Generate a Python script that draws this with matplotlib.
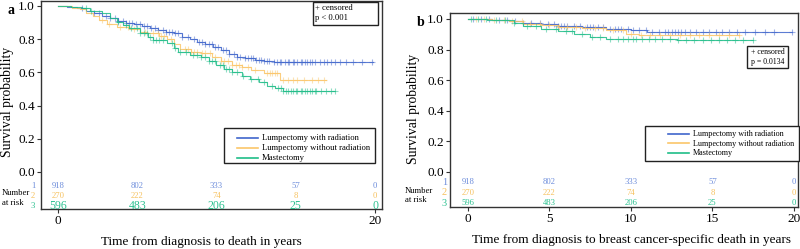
import numpy as np
import matplotlib
matplotlib.use("Agg")
import matplotlib.pyplot as plt
from matplotlib.lines import Line2D
from matplotlib.patches import Rectangle

plt.rcParams['font.family'] = ['Liberation Serif', 'DejaVu Serif']

# group names and colours
groups = ["Lumpectomy with radiation", "Lumpectomy without radiation", "Mastectomy"]
colors = ["#4066cc", "#fbc66a", "#1fbd88"]
risk_colors = ["#6d8ddb", "#f6c15e", "#2cc190"]

risk_times = [0, 5, 10, 15, 20]
risk_lwr = [918, 802, 333, 57, 0]
risk_lwor = [270, 222, 74, 8, 0]
risk_mast = [596, 483, 206, 25, 0]

# ---- panel a: overall survival (step points)
a_lwr_t = [0, 0.6, 1.2, 1.8, 2.3, 2.8, 3.3, 3.8, 4.3, 4.8, 5.3, 5.8, 6.3, 6.8, 7.3, 7.8, 8.3,
           8.8, 9.3, 9.8, 10.3, 10.8, 11.3, 11.8, 12.4, 13.0, 13.6, 19.9]
a_lwr_s = [1.0, 0.995, 0.985, 0.97, 0.955, 0.94, 0.925, 0.91, 0.9, 0.89, 0.88, 0.865, 0.855, 0.845,
           0.835, 0.815, 0.8, 0.785, 0.77, 0.755, 0.735, 0.71, 0.695, 0.685, 0.675, 0.668, 0.66, 0.66]
a_lwor_t = [0, 0.9, 1.4, 1.8, 2.2, 2.6, 3.1, 3.7, 4.5, 5.2, 5.6, 6.4, 6.9, 7.3, 7.7, 8.4, 9.0,
            9.7, 10.3, 11.0, 11.6, 12.2, 13.0, 14.0, 16.9]
a_lwor_s = [1.0, 0.99, 0.98, 0.96, 0.94, 0.915, 0.89, 0.875, 0.86, 0.845, 0.835, 0.82, 0.8, 0.77,
            0.74, 0.725, 0.715, 0.69, 0.67, 0.645, 0.63, 0.615, 0.595, 0.555, 0.555]
a_mast_t = [0, 0.8, 1.5, 2.0, 2.8, 3.3, 3.7, 4.1, 4.5, 5.2, 5.7, 6.0, 6.9, 7.3, 7.6, 8.3, 9.0,
            9.5, 10.0, 10.5, 11.0, 11.6, 12.1, 12.7, 13.2, 13.7, 14.2, 17.5]
a_mast_s = [1.0, 0.995, 0.985, 0.97, 0.955, 0.93, 0.905, 0.885, 0.865, 0.835, 0.815, 0.795, 0.775,
            0.745, 0.725, 0.705, 0.69, 0.67, 0.645, 0.62, 0.6, 0.58, 0.56, 0.54, 0.52, 0.505, 0.49, 0.49]

a_lwr_c = [1.5, 2.3, 2.6, 3.0, 3.3, 3.6, 3.8, 4.1, 4.3, 4.5, 4.7, 4.9, 5.2, 5.4, 5.6, 5.9, 6.1,
           6.3, 6.6, 6.8, 7.0, 7.2, 7.4, 7.6, 7.8, 8.2, 8.6, 8.9, 9.1, 9.3, 9.5, 9.7, 9.9, 10.1,
           10.4, 10.6, 10.8, 11.1, 11.3, 11.5, 11.8, 12.0, 12.2, 12.3, 12.5, 12.7, 12.8, 13.0,
           13.2, 13.3, 13.6, 13.8, 14.0, 14.1, 14.3, 14.5, 14.6, 14.8, 14.9, 15.1, 15.3, 15.4,
           15.6, 15.7, 15.9, 16.0, 16.2, 16.5, 16.8, 17.0, 17.2, 17.5, 17.8, 18.2, 18.6, 19.2, 19.8]
a_lwor_c = [2.8, 3.2, 3.9, 4.4, 4.8, 5.5, 6.0, 6.3, 6.5, 6.7, 7.1, 8.0, 8.2, 8.4, 8.6, 8.8, 9.1,
            9.3, 9.6, 9.9, 10.3, 10.5, 10.7, 11.0, 11.2, 11.4, 11.6, 12.0, 12.4, 13.2, 13.4,
            13.5, 13.7, 13.8, 14.2, 14.5, 14.8, 15.1, 15.5, 16.0, 16.4, 16.8]
a_mast_c = [1.8, 2.1, 3.8, 4.3, 4.6, 5.0, 5.2, 5.4, 5.6, 5.8, 6.0, 6.2, 6.4, 6.6, 7.2, 7.4, 7.7,
            8.1, 8.5, 8.8, 9.0, 9.3, 9.5, 9.7, 9.9, 10.2, 10.4, 10.6, 10.8, 11.0, 11.3, 11.7,
            12.2, 12.6, 13.0, 13.5, 13.9, 14.1, 14.2, 14.4, 14.5, 14.7, 14.8, 15.0, 15.1, 15.3,
            15.4, 15.6, 15.7, 15.9, 16.0, 16.2, 16.3, 16.6, 16.9, 17.2, 17.5]

# ---- panel b: breast cancer-specific survival
b_lwr_t = [0, 1.5, 2.5, 3.4, 4.5, 5.5, 7.0, 8.5, 10.0, 11.0, 19.9]
b_lwr_s = [1.0, 0.995, 0.985, 0.975, 0.965, 0.955, 0.945, 0.935, 0.925, 0.915, 0.915]
b_lwor_t = [0, 1.5, 2.5, 3.4, 4.5, 5.5, 7.0, 8.5, 9.7, 10.5, 16.6]
b_lwor_s = [1.0, 0.995, 0.985, 0.97, 0.96, 0.95, 0.94, 0.925, 0.905, 0.895, 0.895]
b_mast_t = [0, 1.2, 2.0, 2.8, 3.4, 4.5, 5.5, 6.5, 7.5, 8.5, 12.8, 17.5]
b_mast_s = [1.0, 0.995, 0.99, 0.975, 0.955, 0.935, 0.92, 0.9, 0.88, 0.87, 0.86, 0.86]

b_lwr_c = [0.3, 0.8, 1.3, 1.9, 2.4, 2.9, 3.4, 3.9, 4.4, 4.9, 5.3, 5.5, 5.7, 5.9, 6.1, 6.5, 6.9,
           7.3, 7.5, 7.7, 8.0, 8.3, 8.7, 9.0, 9.2, 9.4, 9.8, 10.1, 10.5, 10.9, 11.3, 11.7, 12.1,
           12.3, 12.5, 12.7, 12.9, 13.1, 13.3, 13.6, 14.0, 14.4, 14.8, 15.2, 15.6, 16.0, 16.5,
           17.0, 17.6, 18.2, 18.8, 19.9]
b_lwor_c = [0.5, 1.0, 1.6, 2.2, 2.7, 3.3, 3.8, 4.4, 5.0, 5.6, 6.1, 6.6, 7.2, 7.8, 8.3, 8.9,
            9.5, 10.0, 10.6, 11.2, 11.8, 12.4, 13.0, 13.6, 14.2, 14.8, 15.4, 16.0, 16.6]
b_mast_c = [0.2, 0.6, 1.1, 1.7, 2.3, 2.8, 3.6, 4.2, 4.8, 5.4, 6.0, 6.4, 7.0, 7.6, 8.1, 8.7,
            9.2, 9.5, 9.8, 10.1, 10.3, 10.7, 11.1, 11.5, 11.9, 12.4, 12.9, 13.4, 13.9, 14.4,
            14.9, 15.4, 15.9, 16.4, 16.9, 17.5]


def step_value(t, s, c):
    idx = np.searchsorted(t, c, side="right") - 1
    return np.asarray(s)[idx]


def draw_panel(ax, curves, xlim, ylim, xticks, rows_y, big_row3):
    for (t, s, c), col in zip(curves, colors):
        ax.step(t, s, where="post", color=col, lw=0.8, alpha=0.85)
        cs = step_value(np.asarray(t), s, np.asarray(c))
        ax.plot(c, cs, ls="none", marker="+", ms=4.5, mew=0.8, color=col, alpha=0.5)
    ax.set_xlim(*xlim)
    ax.set_ylim(*ylim)
    ax.set_xticks(xticks)
    ax.set_yticks([0.0, 0.2, 0.4, 0.6, 0.8, 1.0])
    ax.set_yticklabels(["0.0", "0.2", "0.4", "0.6", "0.8", "1.0"])
    ax.tick_params(labelsize=9.5, length=3, width=0.8, pad=1.5, color="#333333")
    for sp in ax.spines.values():
        sp.set_linewidth(1.0)
        sp.set_color("#333333")
    # number at risk inside the frame
    for k, (vals, col) in enumerate(zip([risk_lwr, risk_lwor, risk_mast], risk_colors)):
        fs = 8.5 if (big_row3 and k == 2) else 6.2
        for tt, v in zip(risk_times, vals):
            ax.text(tt, rows_y[k], str(v), color=col, fontsize=fs, ha="center", va="center")


fig = plt.figure(figsize=(8.0, 2.49), dpi=100)
W, H = 800, 249


def fx(px):
    return px / W


def fy(py):
    return 1 - py / H


# panel a
ax_a = fig.add_axes([fx(41), fy(209), (382 - 41) / W, 208 / H])
draw_panel(ax_a,
           [(a_lwr_t, a_lwr_s, a_lwr_c), (a_lwor_t, a_lwor_s, a_lwor_c), (a_mast_t, a_mast_s, a_mast_c)],
           (-1.07, 20.44), (-0.223, 1.030), [0, 20], [-0.084, -0.145, -0.205], True)

# panel b
ax_b = fig.add_axes([fx(450), fy(207), (798 - 450) / W, (207 - 13) / H])
draw_panel(ax_b,
           [(b_lwr_t, b_lwr_s, b_lwr_c), (b_lwor_t, b_lwor_s, b_lwor_c), (b_mast_t, b_mast_s, b_mast_c)],
           (-1.10, 20.25), (-0.229, 1.039), [0, 5, 10, 15, 20], [-0.065, -0.137, -0.203], False)

# row labels of the risk table
for ax, x0, rows_y, fs in [(ax_a, -1.58, [-0.084, -0.145, -0.205], 6.2),
                           (ax_b, -1.45, [-0.068, -0.137, -0.203], 7.5)]:
    for k, col in enumerate(risk_colors):
        ax.text(x0, rows_y[k], str(k + 1), color=col, fontsize=fs, ha="center", va="center",
                clip_on=False)

fig.text(fx(2), fy(193), "Number", fontsize=6.2, va="center", ha="left")
fig.text(fx(2), fy(203), "at risk", fontsize=6.2, va="center", ha="left")
fig.text(fx(405), fy(191), "Number", fontsize=6.2, va="center", ha="left")
fig.text(fx(405), fy(200), "at risk", fontsize=6.2, va="center", ha="left")

# axis labels
fig.text(fx(8), fy(102), "Survival probability", rotation=90, fontsize=9.8,
         ha="center", va="center")
fig.text(fx(414), fy(109), "Survival probability", rotation=90, fontsize=9.8,
         ha="center", va="center")
fig.text(fx(201), fy(242), "Time from diagnosis to death in years", fontsize=9.5,
         ha="center", va="center")
fig.text(fx(632), fy(240), "Time from diagnosis to breast cancer-specific death in years",
         fontsize=9.5, ha="center", va="center")

# panel letters
fig.text(fx(11), fy(10), "a", fontsize=10, fontweight="bold", ha="center", va="center")
fig.text(fx(421), fy(22), "b", fontsize=10, fontweight="bold", ha="center", va="center")


def box(x0, y0, x1, y1):
    fig.add_artist(Rectangle((fx(x0), fy(y1)), (x1 - x0) / W, (y1 - y0) / H,
                             transform=fig.transFigure, fc="white", ec="#222222", lw=1.0,
                             zorder=5, clip_on=False))


def legend(x0, y0, x1, y1, line_x0, line_x1, text_x, rows, fs):
    box(x0, y0, x1, y1)
    for name, col, ry in zip(groups, colors, rows):
        fig.add_artist(Line2D([fx(line_x0), fx(line_x1)], [fy(ry), fy(ry)],
                              transform=fig.transFigure, color=col, lw=1.2, zorder=6))
        fig.text(fx(text_x), fy(ry), name, fontsize=fs, ha="left", va="center", zorder=6)


legend(224, 128, 375, 163, 237, 258, 262, [137.5, 147.5, 157.5], 6.2)
legend(645, 126, 799, 161, 668, 689, 693, [134, 143.5, 153], 5.9)

# censored / p-value boxes
box(313, 2, 378, 25)
fig.text(fx(315), fy(8.5), "+ censored", fontsize=6.2, ha="left", va="center", zorder=6)
fig.text(fx(315), fy(18.5), "p < 0.001", fontsize=6.2, ha="left", va="center", zorder=6)
box(747, 46, 788, 68)
fig.text(fx(751), fy(51.5), "+ censored", fontsize=5.6, ha="left", va="center", zorder=6)
fig.text(fx(751), fy(62), "p = 0.0134", fontsize=5.6, ha="left", va="center", zorder=6)

fig.savefig("out.png", dpi=100)
